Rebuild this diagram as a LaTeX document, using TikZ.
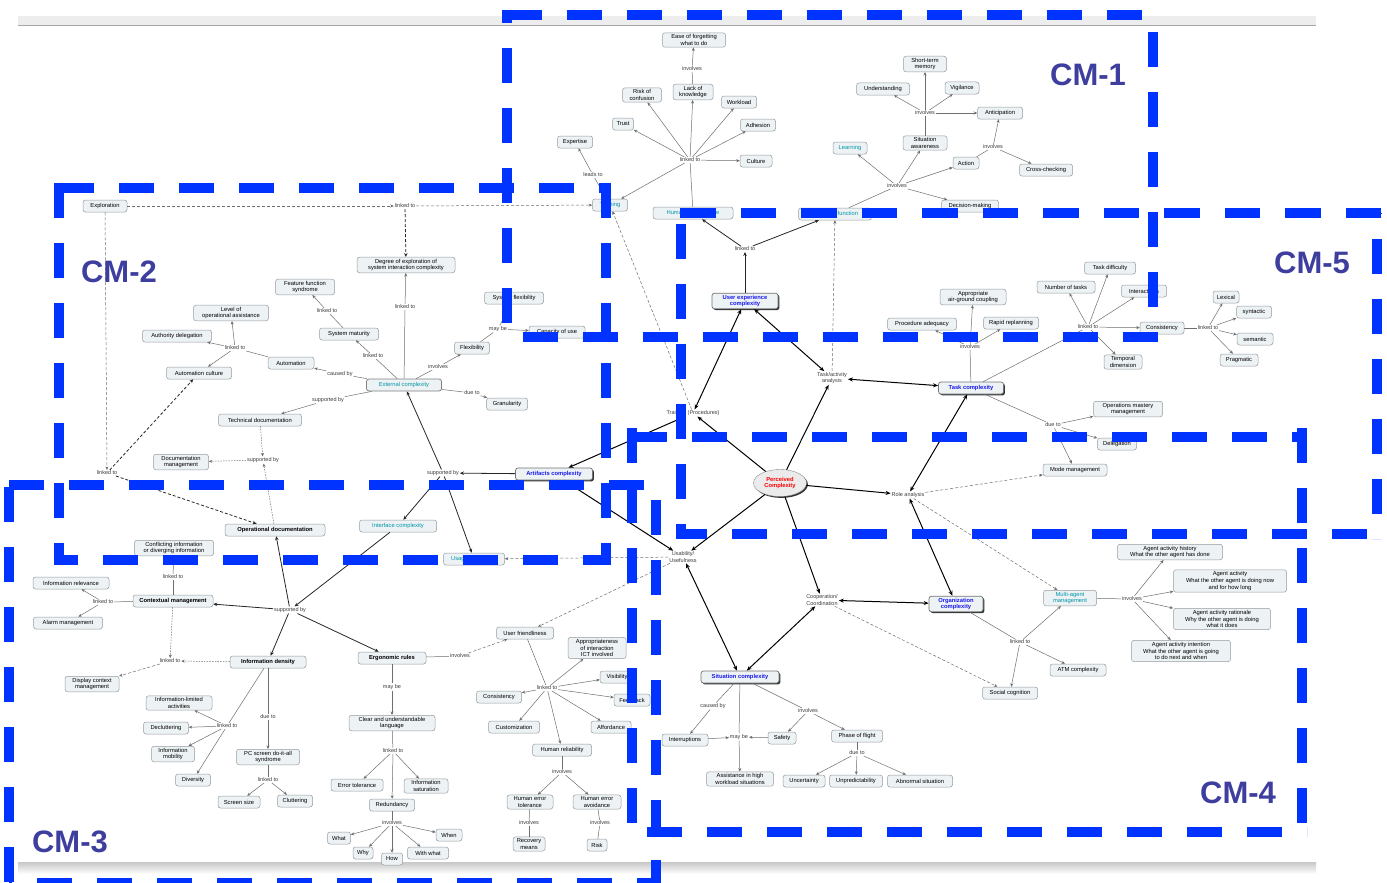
\documentclass[tikz,border=0pt]{standalone}
\usepackage{fontspec}
\setmainfont{Liberation Sans}
\usetikzlibrary{arrows.meta,shapes.geometric,shadows}
\definecolor{boxfill}{RGB}{237,242,245}
\definecolor{boxborder}{RGB}{150,155,160}
\definecolor{linkcol}{RGB}{60,60,60}
\definecolor{linecol}{RGB}{110,110,110}
\definecolor{tealc}{RGB}{0,150,165}
\definecolor{cxblue}{RGB}{25,25,235}
\definecolor{cmblue}{RGB}{0,51,255}
\definecolor{cmlabel}{RGB}{62,62,158}
\newcommand\cmfs{\fontsize{5.8}{6.9}\selectfont}
\newcommand\cmfl{\fontsize{5.5}{6.5}\selectfont}
\newcommand\cmfb{\fontsize{5.8}{6.9}\selectfont\bfseries}
\tikzset{
  cb/.style={draw=boxborder, fill=boxfill, rounded corners=2.5pt, font=\cmfs, align=center,
    inner xsep=2pt, inner ysep=1.6pt, minimum height=12pt, line width=0.5pt},
  bw/.style={minimum width=#1pt},
  tl/.style={cb, text=tealc},
  bb/.style={cb, font=\cmfb},
  cx/.style={cb, text=cxblue, font=\cmfb, draw=black!55, line width=0.7pt,
    drop shadow={shadow xshift=1.4pt, shadow yshift=-1.4pt, fill=black!80, opacity=1}},
  lk/.style={font=\cmfl, text=linkcol, inner sep=0.8pt, align=center},
  ln/.style={draw=linecol, line width=0.5pt},
  ar/.style={ln, -{Stealth[length=3.5pt,width=3pt]}},
  md/.style={draw=black!85, line width=0.8pt, -{Stealth[length=4pt,width=3.5pt]}},
  th/.style={draw=black, line width=1pt, -{Stealth[length=5pt,width=4pt]}},
  dth/.style={draw=black, line width=1pt, {Stealth[length=5pt,width=4pt]}-{Stealth[length=5pt,width=4pt]}},
  da/.style={ar, dash pattern=on 3pt off 2pt},
  dk/.style={md, dash pattern=on 3pt off 2pt},
  dt/.style={ar, dash pattern=on 1.5pt off 1.2pt},
  cml/.style={font=\fontsize{31}{31}\selectfont\bfseries, text=cmlabel, inner sep=0pt},
  cmbox/.style={draw=cmblue, line width=10pt, dash pattern=on 35pt off 25pt, line cap=butt}
}
\begin{document}
\begin{tikzpicture}[x=1pt,y=-1pt]
\useasboundingbox (0,0) rectangle (1387,883);
\fill[white] (0,0) rectangle (1387,883);
% screenshot frame
\fill[black!7] (18,16) rectangle (1316,25);
\draw[black!35, line width=1pt] (18,25.5) -- (1316,25.5);
\shade[top color=black!22, bottom color=white] (18,862) rectangle (1316,874);

% ---------------- CM-1 nodes ----------------
\node[cb,bw=63] (ease) at (694,40) {Ease of forgetting\\what to do};
\node[lk] (inv1) at (692,69) {involves};
\node[cb,bw=39] (risk) at (642,95) {Risk of\\confusion};
\node[cb,bw=40] (lack) at (693,92) {Lack of\\knowledge};
\node[cb,bw=21] (trust) at (623,124) {Trust};
\node[cb,bw=35] (exper) at (575,142) {Expertise};
\node[lk] (leads) at (593,175) {leads to};
\node[tl,bw=35] (train) at (610,205) {Training};
\node[tl,bw=80] (humperf) at (693,213) {Human performance};
\node[lk] (lt1) at (690,160) {linked to};
\node[cb,bw=35] (workl) at (739,102) {Workload};
\node[cb,bw=35] (adhes) at (758,125) {Adhesion};
\node[cb,bw=32] (cult) at (756,161) {Culture};
\node[tl,bw=73] (cogf) at (835,214) {Cognitive function};
\node[cb,bw=43] (stm) at (925,64) {Short-term\\memory};
\node[cb,bw=53] (under) at (883,89) {Understanding};
\node[cb,bw=34] (vigil) at (962,88) {Vigilance};
\node[lk] (inv3) at (925,113) {involves};
\node[cb,bw=45] (antic) at (1000,113) {Anticipation};
\node[cb,bw=44] (sitaw) at (925,143) {Situation\\awareness};
\node[tl,bw=34] (learn) at (850,148) {Learning};
\node[lk] (inv4) at (993,147) {involves};
\node[cb,bw=26] (action) at (966,163) {Action};
\node[cb,bw=53] (cross) at (1046,170) {Cross-checking};
\node[lk] (inv2) at (897,186) {involves};
\node[cb,bw=57] (decis) at (970,206) {Decision-making};

% ---------------- central / CM-5 nodes ----------------
\node[cx,bw=66] (uxc) at (745,301) {User experience\\complexity};
\node[lk] (lt2) at (745,249) {linked to};
\node[lk] (taa) at (832,378) {Task/activity\\analysis};
\node[cx,bw=65] (taskc) at (971,388) {Task complexity};
\node[cb,bw=66] (appr) at (973,297) {Appropriate\\air-ground coupling};
\node[cb,bw=69] (proc) at (922,324) {Procedure adequacy};
\node[cb,bw=55] (rapid) at (1011,323) {Rapid replanning};
\node[lk] (inv5) at (970,347) {involves};
\node[cb,bw=51] (tdiff) at (1110,268) {Task difficulty};
\node[cb,bw=58] (ntask) at (1066,287) {Number of tasks};
\node[cb,bw=45] (inter) at (1144,291) {Interactions};
\node[lk] (lt3) at (1088,327) {linked to};
\node[cb,bw=44] (consis) at (1162,328) {Consistency};
\node[cb,bw=38] (tempo) at (1123,362) {Temporal\\dimension};
\node[lk] (lt4) at (1208,328) {linked to};
\node[cb,bw=26] (lexic) at (1226,297) {Lexical};
\node[cb,bw=35] (synt) at (1254,312) {syntactic};
\node[cb,bw=36] (seman) at (1255,339) {semantic};
\node[cb,bw=38] (prag) at (1239,360) {Pragmatic};
\node[lk] (due1) at (1053,425) {due to};
\node[cb,bw=69] (opsm) at (1128,409) {Operations mastery\\management};
\node[cb,bw=39] (deleg) at (1117,444) {Delegation};
\node[cb,bw=64] (modem) at (1075,470) {Mode management};
\node[ellipse, draw=black!45, fill=black!8, minimum width=53pt, minimum height=27pt, inner sep=0pt,
  font=\cmfb, text=red, align=center,
  drop shadow={shadow xshift=1.4pt, shadow yshift=-1.4pt, fill=black!80, opacity=1}] (pc) at (780,483) {Perceived\\Complexity};
\node[lk] (procs) at (693,413) {Training (Procedures)};
\node[lk] (role) at (908,495) {Role analysis};
\node[lk] (usab) at (683,557) {Usability/\\Usefulness};
\node[lk] (coop) at (822,600) {Cooperation/\\Coordination};
\node[cx,bw=54] (orgc) at (956,604) {Organization\\complexity};
\node[cx,bw=78] (sitc) at (740,677) {Situation complexity};
\node[cx,bw=77] (artc) at (554,474) {Artifacts complexity};
\node[tl,bw=77] (intc) at (398,526) {Interface complexity};
\node[tl,bw=61] (usage) at (474,559) {Usage complexity};
\node[lk] (sup1) at (443,473) {supported by};

% ---------------- CM-2 nodes ----------------
\node[cb,bw=44] (explor) at (105,206) {Exploration};
\node[lk] (lt5) at (405,206) {linked to};
\node[cb,bw=98] (degree) at (406,265) {Degree of exploration of\\system interaction complexity};
\node[cb,bw=59] (synd) at (305,287) {Feature function\\syndrome};
\node[lk] (lt9) at (327,311) {linked to};
\node[cb,bw=59] (sysmat) at (349,334) {System maturity};
\node[lk] (lt8) at (373,356) {linked to};
\node[lk] (lt7) at (405,307) {linked to};
\node[cb,bw=59] (sysflex) at (514,298) {System flexibility};
\node[lk] (maybe1) at (498,329) {may be};
\node[cb,bw=56] (ofuse) at (557,332) {Capacity of use};
\node[cb,bw=35] (flex) at (472,348) {Flexibility};
\node[lk] (inv6) at (438,367) {involves};
\node[tl,bw=75,draw=black!50,line width=0.8pt] (extc) at (404,385) {External complexity};
\node[lk] (due2) at (472,393) {due to};
\node[cb,bw=41] (gran) at (507,404) {Granularity};
\node[lk] (caused) at (340,374) {caused by};
\node[cb,bw=46] (autom) at (291,363) {Automation};
\node[lk] (lt10) at (235,348) {linked to};
\node[cb,bw=75] (levop) at (231,313) {Level of\\operational assistance};
\node[cb,bw=69] (auth) at (177,336) {Authority delegation};
\node[cb,bw=65] (autoc) at (199,373) {Automation culture};
\node[lk] (sup2) at (328,400) {supported by};
\node[cb,bw=83] (techd) at (260,420) {Technical documentation};
\node[lk] (sup3) at (263,460) {supported by};
\node[cb,bw=55] (docm) at (181,462) {Documentation\\management};
\node[lk] (lt6) at (107,473) {linked to};
\node[bb,bw=100] (opdoc) at (275,530) {Operational documentation};

% ---------------- CM-3 nodes ----------------
\node[cb,bw=79] (confl) at (174,548) {Conflicting information\\or diverging information};
\node[lk] (lt11) at (173,577) {linked to};
\node[bb,bw=80] (ctxm) at (173,601) {Contextual management};
\node[lk] (lt12) at (103,602) {linked to};
\node[cb,bw=76] (inforel) at (71,583) {Information relevance};
\node[cb,bw=69] (alarm) at (68,623) {Alarm management};
\node[lk] (sup4) at (290,610) {supported by};
\node[lk] (lt13) at (170,661) {linked to};
\node[bb,bw=76] (infod) at (268,662) {Information density};
\node[cb,bw=54] (dispc) at (92,684) {Display context\\management};
\node[cb,bw=66] (infolim) at (179,703) {Information-limited\\activities};
\node[cb,bw=45] (declut) at (166,728) {Decluttering};
\node[lk] (lt14) at (227,726) {linked to};
\node[lk] (due3) at (268,717) {due to};
\node[cb,bw=43] (infomob) at (173,754) {Information\\mobility};
\node[cb,bw=63] (pcscr) at (268,757) {PC screen do-it-all\\syndrome};
\node[cb,bw=35] (divers) at (193,780) {Diversity};
\node[lk] (lt15) at (268,780) {linked to};
\node[cb,bw=42] (scrsz) at (239,802) {Screen size};
\node[cb,bw=35] (clutt) at (295,801) {Cluttering};
\node[bb,bw=68] (ergo) at (392,658) {Ergonomic rules};
\node[lk] (inv7) at (460,656) {involves};
\node[cb,bw=57] (userf) at (525,633) {User friendliness};
\node[cb,bw=58] (approp) at (597,648) {Appropriateness\\of interaction\\ICT involved};
\node[lk] (lt17) at (547,688) {linked to};
\node[cb,bw=34] (visib) at (617,677) {Visibility};
\node[cb,bw=36] (feedb) at (632,700) {Feedback};
\node[cb,bw=45] (consis3) at (499,697) {Consistency};
\node[cb,bw=51] (custom) at (514,727) {Customization};
\node[cb,bw=40] (afford) at (611,727) {Affordance};
\node[cb,bw=59] (humrel) at (562,750) {Human reliability};
\node[lk] (inv9) at (562,772) {involves};
\node[cb,bw=46] (het) at (530,802) {Human error\\tolerance};
\node[cb,bw=48] (hea) at (597,802) {Human error\\avoidance};
\node[lk] (inv10) at (529,823) {involves};
\node[lk] (inv11) at (600,823) {involves};
\node[cb,bw=32] (recov) at (529,844) {Recovery\\means};
\node[cb,bw=20] (riskn) at (597,845) {Risk};
\node[lk] (maybe2) at (392,687) {may be};
\node[cb,bw=86] (clear) at (392,723) {Clear and understandable\\language};
\node[lk] (lt16) at (393,751) {linked to};
\node[cb,bw=52] (errtol) at (357,785) {Error tolerance};
\node[cb,bw=44] (infosat) at (426,786) {Information\\saturation};
\node[cb,bw=45] (redund) at (392,805) {Redundancy};
\node[lk] (inv8) at (392,823) {involves};
\node[cb,bw=23] (what) at (339,838) {What};
\node[cb,bw=20] (why) at (363,853) {Why};
\node[cb,bw=21] (how) at (392,859) {How};
\node[cb,bw=41] (withw) at (428,853) {With what};
\node[cb,bw=26] (when) at (449,835) {When};

% ---------------- CM-4 nodes ----------------
\node[lk] (caused2) at (713,706) {caused by};
\node[cb,bw=46] (interr) at (685,740) {Interruptions};
\node[lk] (maybe3) at (739,737) {may be};
\node[cb,bw=28] (safety) at (782,738) {Safety};
\node[lk] (inv12) at (808,711) {involves};
\node[cb,bw=51] (phase) at (857,736) {Phase of flight};
\node[lk] (due4) at (857,753) {due to};
\node[cb,bw=67] (assist) at (740,779) {Assistance in high\\workload situations};
\node[cb,bw=42] (uncert) at (804,781) {Uncertainty};
\node[cb,bw=53] (unpred) at (856,781) {Unpredictability};
\node[cb,bw=65] (abnorm) at (920,781) {Abnormal situation};
\node[cb,bw=55] (socog) at (1010,693) {Social cognition};
\node[lk] (lt18) at (1020,642) {linked to};
\node[cb,bw=56] (atm) at (1078,670) {ATM complexity};
\node[tl,bw=53] (multi) at (1070,598) {Multi-agent\\management};
\node[lk] (inv13) at (1132,599) {involves};
\node[cb,bw=105] (ahist) at (1170,552) {Agent activity history\\What the other agent has done};
\node[cb,bw=113] (anow) at (1230,581) {Agent activity\\What the other agent is doing now\\and for how long};
\node[cb,bw=97] (arat) at (1222,619) {Agent activity rationale\\Why the other agent is doing\\what it does};
\node[cb,bw=99] (aint) at (1181,651) {Agent activity intention\\What the other agent is going\\to do next and when};

% ================= edges =================
% CM-1
\draw[ln] (humperf) -- (lt1);
\foreach \t in {trust,risk,lack,workl,adhes,cult,train} \draw[ar] (lt1) -- (\t);
\draw[ln] (lack) -- (inv1); \draw[ar] (inv1) -- (ease);
\draw[ln] (train) -- (leads); \draw[ar] (leads) -- (exper);
\draw[ln] (cogf) -- (inv2);
\foreach \t in {learn,sitaw,action,decis} \draw[ar] (inv2) -- (\t);
\draw[ln] (sitaw) -- (inv3);
\foreach \t in {under,stm,vigil,antic} \draw[ar] (inv3) -- (\t);
\draw[ln] (action) -- (inv4); \draw[ar] (inv4) -- (antic); \draw[ar] (inv4) -- (cross);

% central
\draw[md] (uxc) -- (lt2);
\draw[md] (lt2) -- (humperf);
\draw[md] (lt2) -- (cogf);
\draw[da] (taa) -- (cogf);
\draw[dth] (uxc) -- (taa);
\draw[dth] (taa) -- (taskc);
\draw[ln] (taskc) -- (inv5);
\foreach \t in {appr,rapid,proc} \draw[ar] (inv5) -- (\t);
\draw[ln] (taskc) -- (lt3);
\foreach \t in {ntask,tdiff,inter,consis,tempo} \draw[ar] (lt3) -- (\t);
\draw[ln] (consis) -- (lt4);
\foreach \t in {lexic,synt,seman,prag} \draw[ar] (lt4) -- (\t);
\draw[ln] (taskc) -- (due1);
\foreach \t in {opsm,deleg,modem} \draw[ar] (due1) -- (\t);
\draw[th] (pc) -- (procs);
\draw[dth] (procs) -- (uxc);
\draw[th] (procs) -- (artc);
\draw[da] (procs) -- (train);
\draw[th] (pc) -- (taa);
\draw[th] (pc) -- (role);
\draw[dth] (role) -- (taskc);
\draw[da] (role) -- (modem);
\draw[da] (role) -- (multi);
\draw[dth] (role) -- (orgc);
\draw[th] (pc) -- (usab);
\draw[th] (pc) -- (coop);
\draw[dth] (coop) -- (orgc);
\draw[dth] (coop) -- (sitc);
\draw[da] (coop) -- (socog);
\draw[dth] (usab) -- (sitc);
\draw[da] (usab) -- (usage);
\draw[da] (usab) -- (userf);
\draw[md] (artc) -- (sup1);
\foreach \t in {extc,intc,usage} \draw[md] (sup1) -- (\t);
\draw[th] (artc) -- (usab);

% CM-2
\draw[da] (explor) -- (lt5);
\draw[da] (lt5) -- (train);
\draw[dk] (lt5) -- (degree);
\draw[da] (explor) -- (lt6);
\draw[dk] (lt6) -- (autoc);
\draw[dk] (lt6) -- (opdoc);
\draw[ln] (extc) -- (lt7); \draw[ar] (lt7) -- (degree);
\draw[ln] (extc) -- (lt8); \draw[ar] (lt8) -- (sysmat);
\draw[ln] (sysmat) -- (lt9); \draw[ar] (lt9) -- (synd);
\draw[ln] (extc) -- (caused); \draw[ar] (caused) -- (autom);
\draw[ln] (autom) -- (lt10);
\foreach \t in {levop,auth,autoc} \draw[ar] (lt10) -- (\t);
\draw[ln] (extc) -- (sup2); \draw[ar] (sup2) -- (techd);
\draw[dt] (techd) -- (sup3);
\draw[dt] (sup3) -- (docm);
\draw[dt] (opdoc) -- (sup3);
\draw[ln] (extc) -- (inv6); \draw[ar] (inv6) -- (flex);
\draw[ln] (sysflex) -- (maybe1); \draw[ln] (flex) -- (maybe1); \draw[ar] (maybe1) -- (ofuse);
\draw[ln] (extc) -- (due2); \draw[ar] (due2) -- (gran);

% CM-3
\draw[md] (intc) -- (sup4);
\foreach \t in {opdoc,ctxm,infod,ergo} \draw[md] (sup4) -- (\t);
\draw[ln] (confl) -- (lt11); \draw[ln] (lt11) -- (ctxm);
\draw[ln] (ctxm) -- (lt12);
\foreach \t in {inforel,alarm} \draw[ar] (lt12) -- (\t);
\draw[dt] (ctxm) -- (lt13);
\draw[dt] (infod) -- (lt13);
\draw[da] (lt13) -- (dispc);
\draw[ln] (infod) -- (lt14);
\foreach \t in {infolim,declut,infomob,divers} \draw[ar] (lt14) -- (\t);
\draw[ln] (infod) -- (due3); \draw[ar] (due3) -- (pcscr);
\draw[ln] (pcscr) -- (lt15);
\foreach \t in {scrsz,clutt} \draw[ar] (lt15) -- (\t);
\draw[ln] (ergo) -- (inv7); \draw[da] (inv7) -- (userf);
\draw[ln] (ergo) -- (maybe2); \draw[ar] (maybe2) -- (clear);
\draw[ln] (clear) -- (lt16);
\foreach \t in {errtol,redund,infosat} \draw[ar] (lt16) -- (\t);
\draw[ln] (redund) -- (inv8);
\foreach \t in {what,why,how,withw,when} \draw[ar] (inv8) -- (\t);
\draw[ln] (userf) -- (lt17);
\foreach \t in {approp,visib,feedb,consis3,custom,afford,humrel} \draw[ar] (lt17) -- (\t);
\draw[ln] (humrel) -- (inv9);
\foreach \t in {het,hea} \draw[ar] (inv9) -- (\t);
\draw[ln] (het) -- (inv10); \draw[ln] (inv10) -- (recov);
\draw[ln] (hea) -- (inv11); \draw[ln] (inv11) -- (riskn);

% CM-4
\draw[ln] (sitc) -- (caused2); \draw[ar] (caused2) -- (interr);
\draw[ln] (sitc) -- (maybe3); \draw[ar] (maybe3) -- (assist);
\draw[ar] (interr) -- (maybe3); \draw[ar] (safety) -- (maybe3);
\draw[ln] (sitc) -- (inv12);
\foreach \t in {safety,phase} \draw[ar] (inv12) -- (\t);
\draw[ln] (phase) -- (due4);
\foreach \t in {uncert,unpred,abnorm} \draw[ar] (due4) -- (\t);
\draw[ln] (orgc) -- (lt18);
\foreach \t in {socog,atm,multi} \draw[ar] (lt18) -- (\t);
\draw[ln] (multi) -- (inv13);
\foreach \t in {ahist,anow,arat,aint} \draw[ar] (inv13) -- (\t);

% ---------------- CM regions (each side with its own dash phase) ----------------
% CM-1
\draw[cmbox] (507,15) -- (1158,15);
\draw[cmbox, dash phase=43pt] (1153,15) -- (1153,342);
\draw[cmbox] (1158,337) -- (502,337);
\draw[cmbox, dash phase=46pt] (507,337) -- (507,10);
% CM-2
\draw[cmbox] (59,188) -- (611,188);
\draw[cmbox] (59,183) -- (59,565);
\draw[cmbox, dash phase=11pt] (54,560) -- (611,560);
\draw[cmbox] (606,183) -- (606,565);
% CM-5
\draw[cmbox, dash pattern=on 35.5pt off 25pt] (680,213) -- (1382,213);
\draw[cmbox, dash phase=34pt] (1377,213) -- (1377,539);
\draw[cmbox, dash phase=5pt] (677,534) -- (1382,534);
\draw[cmbox, dash phase=49pt] (681,213) -- (681,539);
% CM-4
\draw[cmbox] (632,437) -- (1307,437);
\draw[cmbox] (1302,428) -- (1302,837);
\draw[cmbox, dash phase=45pt] (632,832) -- (1307,832);
\draw[cmbox] (632,428) -- (632,837);
% CM-3
\draw[cmbox] (9,485) -- (660,485);
\draw[cmbox] (9,487) -- (9,888);
\draw[cmbox, dash phase=32pt] (9,883) -- (660,883);
\draw[cmbox, dash phase=45pt] (656,485) -- (656,888);

\node[cml] (l1) at (1088,75) {CM-1};
\node[cml] (l2) at (119,272) {CM-2};
\node[cml] (l5) at (1312,263) {CM-5};
\node[cml] (l3) at (70,842) {CM-3};
\node[cml] (l4) at (1238,793) {CM-4};
\end{tikzpicture}
\end{document}
